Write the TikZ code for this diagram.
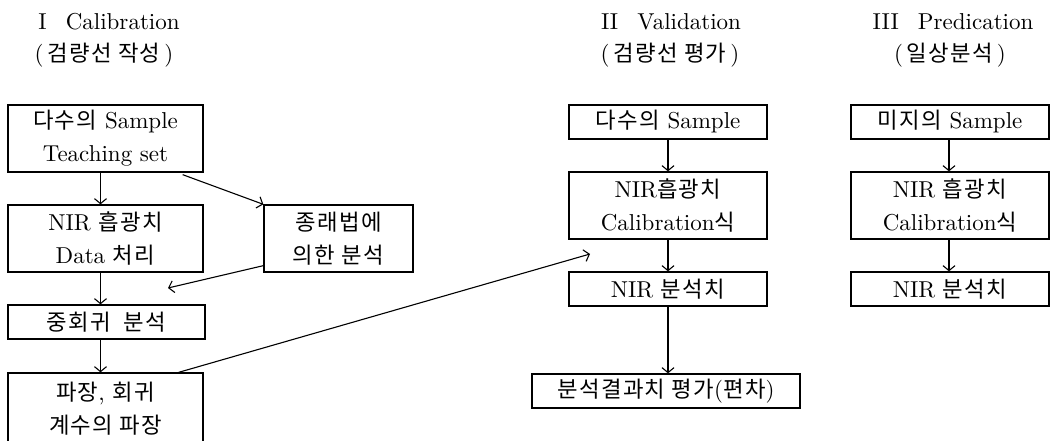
\documentclass[tikz,border=0pt]{standalone}
\usepackage{fontspec}
\setmainfont{lmroman10-regular}[Extension=.otf, BoldFont=lmroman10-bold]
\newfontfamily\kr{Noto Sans CJK KR}[Scale=0.97, LetterSpace=6]
\usetikzlibrary{arrows.meta,calc}
\begin{document}
\begin{tikzpicture}[x=1pt,y=-1pt,
  box/.style={draw, line width=1.3pt, align=center, inner sep=0pt, font=\fontsize{23}{33}\selectfont},
  arr/.style={line width=1.1pt, -{Straight Barb[length=5pt,width=12pt]}},
  ttl/.style={font=\fontsize{23}{33}\selectfont, inner sep=0pt}]
\useasboundingbox (0,0) rectangle (1053,441);
\fill[white] (0,0) rectangle (1053,441);

% titles
\node[ttl] (t1) at (109,22) {I\enspace\ Calibration};
\node[ttl] (t1k) at (104,55) {(\,{\kr 검량선 작성}\,)};
\node[ttl] (t2) at (671,22) {II\enspace\ Validation};
\node[ttl] (t2k) at (670,55) {(\,{\kr 검량선 평가}\,)};
\node[ttl] (t3) at (953,22) {III\enspace\ Predication};
\node[ttl] (t3k) at (950,55) {(\,{\kr 일상분석}\,)};

% column I
\node[box, minimum width=195pt, minimum height=67pt] (c1a) at (105.5,138.5) {{\kr 다수의}\ Sample\\Teaching set};
\node[box, minimum width=195pt, minimum height=67pt] (c1b) at (105.5,238.5) {NIR\ {\kr 흡광치}\\Data\ {\kr 처리}};
\node[box, minimum width=197pt, minimum height=34pt] (c1c) at (106.5,322) {{\kr 중회귀\ \ 분석}};
\node[box, minimum width=195pt, minimum height=72pt] (c1d) at (105.5,409) {{\kr 파장}, {\kr 회귀}\\{\kr 계수의 파장}};
\node[box, minimum width=149pt, minimum height=67pt] (side) at (338.5,238.5) {{\kr 종래법에}\\{\kr 의한 분석}};

% column II
\node[box, minimum width=198pt, minimum height=34pt] (c2a) at (668,122) {{\kr 다수의}\ Sample};
\node[box, minimum width=198pt, minimum height=67pt] (c2b) at (668,205.5) {NIR{\kr 흡광치}\\Calibration{\kr 식}};
\node[box, minimum width=198pt, minimum height=34pt] (c2c) at (668,289) {NIR\ {\kr 분석치}};
\node[box, minimum width=268pt, minimum height=34pt] (c2d) at (666,391) {{\kr 분석결과치 평가}({\kr 편차})};

% column III
\node[box, minimum width=198pt, minimum height=34pt] (c3a) at (950,122) {{\kr 미지의}\ Sample};
\node[box, minimum width=198pt, minimum height=67pt] (c3b) at (950,205.5) {NIR\ {\kr 흡광치}\\Calibration{\kr 식}};
\node[box, minimum width=198pt, minimum height=34pt] (c3c) at (950,289) {NIR\ {\kr 분석치}};

\coordinate (e2) at (168,288);
\coordinate (e3) at (590,254);

% arrows column I
\draw[arr] ([xshift=-5pt]c1a.south) -- ([xshift=-5pt]c1b.north);
\draw[arr] ([xshift=-5pt]c1b.south) -- ([xshift=-6pt]c1c.north);
\draw[arr] ([xshift=-6pt]c1c.south) -- ([xshift=-5pt]c1d.north);
\draw[arr] ([shift={(-21pt,-2pt)}]c1a.south east) -- (side.north west);
\draw[arr] ([yshift=7pt]side.south west) -- (e2);
\draw[arr] ([xshift=-25pt]c1d.north east) -- (e3);

% arrows column II
\draw[arr] (c2a.south) -- (c2b.north);
\draw[arr] (c2b.south) -- (c2c.north);
\draw[arr] (c2c.south) -- (c2c.south |- c2d.north);

% arrows column III
\draw[arr] ([xshift=-1pt]c3a.south) -- ([xshift=-1pt]c3b.north);
\draw[arr] ([xshift=-1pt]c3b.south) -- ([xshift=-1pt]c3c.north);
\end{tikzpicture}
\end{document}
